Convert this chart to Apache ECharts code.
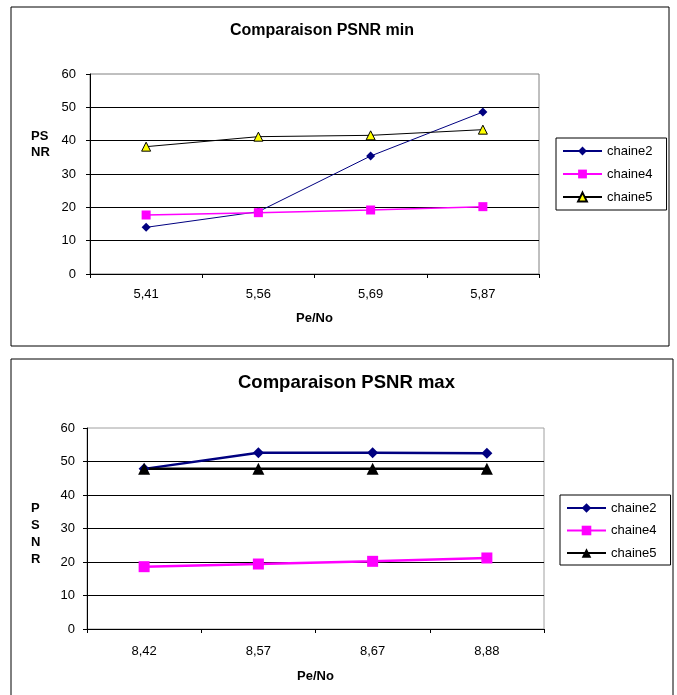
<!DOCTYPE html>
<html>
<head>
<meta charset="utf-8">
<script src="https://cdn.jsdelivr.net/npm/echarts@6/dist/echarts.min.js"></script>
<style>
html,body{margin:0;padding:0;background:#fff;}
#c{width:677px;height:695px;}
</style>
</head>
<body>
<div id="c"></div>
<script>
// ---- data ----
const catsMin = ['5,41', '5,56', '5,69', '5,87'];
const minChaine2 = [14.0, 18.7, 35.4, 48.6];
const minChaine4 = [17.7, 18.4, 19.2, 20.2];
const minChaine5 = [38.2, 41.2, 41.6, 43.3];

const catsMax = ['8,42', '8,57', '8,67', '8,88'];
const maxChaine2 = [47.8, 52.6, 52.6, 52.5];
const maxChaine4 = [18.6, 19.4, 20.2, 21.2];
const maxChaine5 = [47.8, 47.8, 47.8, 47.8];

const yTicks = { min: 0, max: 60, interval: 10 };

const FONT = 'Liberation Sans, Arial, sans-serif';
const chart = echarts.init(document.getElementById('c'), null, { renderer: 'canvas' });

function yAxis(gridIndex, margin) {
  return {
    type: 'value', gridIndex,
    min: yTicks.min, max: yTicks.max, interval: yTicks.interval,
    axisLine: { show: true, lineStyle: { color: '#000', width: 1 } },
    axisTick: { show: true, length: 4, lineStyle: { color: '#000' } },
    axisLabel: { color: '#000', fontSize: 13, fontFamily: FONT, margin },
    splitLine: { show: true, showMaxLine: false, showMinLine: false, lineStyle: { color: '#000', width: 1 } }
  };
}
function xAxis(gridIndex, data, margin, nameGap) {
  return {
    type: 'category', gridIndex, data, boundaryGap: true,
    name: 'Pe/No', nameLocation: 'middle', nameGap,
    nameTextStyle: { color: '#000', fontSize: 13, fontWeight: 'bold', fontFamily: FONT },
    axisLine: { show: true, lineStyle: { color: '#000', width: 1 } },
    axisTick: { show: true, length: 4, lineStyle: { color: '#000' } },
    axisLabel: { color: '#000', fontSize: 13, fontFamily: FONT, margin },
    splitLine: { show: false }
  };
}

const option = {
  backgroundColor: '#fff',
  animation: false,
  title: [
    { text: 'Comparaison PSNR min', left: 225, top: 18,
      textStyle: { fontSize: 16, fontWeight: 'bold', color: '#000', fontFamily: FONT } },
    { text: 'Comparaison PSNR max', left: 233, top: 368,
      textStyle: { fontSize: 18.5, fontWeight: 'bold', color: '#000', fontFamily: FONT } }
  ],
  grid: [
    { left: 90, top: 74, width: 449, height: 200, show: true, borderColor: '#808080', borderWidth: 1, backgroundColor: '#fff' },
    { left: 87, top: 428, width: 457, height: 201, show: true, borderColor: '#a0a0a0', borderWidth: 1, backgroundColor: '#fff' }
  ],
  xAxis: [ xAxis(0, catsMin, 14, 38), xAxis(1, catsMax, 16, 41) ],
  yAxis: [ yAxis(0, 14), yAxis(1, 12) ],
  legend: [
    { left: 556, top: 138, orient: 'vertical', borderColor: '#000', borderWidth: 1,
      padding: [6, 14, 6, 6], itemWidth: 39, itemHeight: 11, itemGap: 9,
      textStyle: { fontSize: 13, color: '#000', fontFamily: FONT, height: 14, lineHeight: 14 },
      data: ['chaine2', 'chaine4', 'chaine5'].map(n => ({ name: n })),
      selectedMode: false
    },
    { left: 560, top: 495, orient: 'vertical', borderColor: '#000', borderWidth: 1,
      padding: [6, 14, 5, 6], itemWidth: 39, itemHeight: 12, itemGap: 8.5,
      textStyle: { fontSize: 13, color: '#000', fontFamily: FONT, height: 14, lineHeight: 14 },
      data: ['chaine2 ', 'chaine4 ', 'chaine5 '].map(n => ({ name: n })),
      selectedMode: false,
      formatter: n => n.trim()
    }
  ],
  series: [
    { name: 'chaine2', type: 'line', xAxisIndex: 0, yAxisIndex: 0, data: minChaine2,
      symbol: 'diamond', symbolSize: 9, lineStyle: { color: '#000080', width: 1 },
      itemStyle: { color: '#000080' } },
    { name: 'chaine4', type: 'line', xAxisIndex: 0, yAxisIndex: 0, data: minChaine4,
      symbol: 'rect', symbolSize: 9, lineStyle: { color: '#ff00ff', width: 1.5 },
      itemStyle: { color: '#ff00ff' } },
    { name: 'chaine5', type: 'line', xAxisIndex: 0, yAxisIndex: 0, data: minChaine5,
      symbol: 'triangle', symbolSize: 9, lineStyle: { color: '#000', width: 1 },
      itemStyle: { color: '#ffff00', borderColor: '#000', borderWidth: 1 } },
    { name: 'chaine2 ', type: 'line', xAxisIndex: 1, yAxisIndex: 1, data: maxChaine2,
      symbol: 'diamond', symbolSize: 11, lineStyle: { color: '#000080', width: 2.5 },
      itemStyle: { color: '#000080' } },
    { name: 'chaine4 ', type: 'line', xAxisIndex: 1, yAxisIndex: 1, data: maxChaine4,
      symbol: 'rect', symbolSize: 11, lineStyle: { color: '#ff00ff', width: 2.5 },
      itemStyle: { color: '#ff00ff' } },
    { name: 'chaine5 ', type: 'line', xAxisIndex: 1, yAxisIndex: 1, data: maxChaine5,
      symbol: 'triangle', symbolSize: 12, lineStyle: { color: '#000', width: 2.5 },
      itemStyle: { color: '#000' } }
  ],
  graphic: [
    { type: 'rect', shape: { x: 11, y: 7, width: 658, height: 339 }, z: -10,
      style: { fill: 'none', stroke: '#000', lineWidth: 1 } },
    { type: 'rect', shape: { x: 11, y: 359, width: 662, height: 345 }, z: -10,
      style: { fill: 'none', stroke: '#000', lineWidth: 1 } },
    { type: 'text', left: 31, top: 128,
      style: { text: 'PS\nNR', font: 'bold 13px ' + FONT, fill: '#000', lineHeight: 16, align: 'left' } },
    { type: 'text', left: 31, top: 500,
      style: { text: 'P\nS\nN\nR', font: 'bold 13px ' + FONT, fill: '#000', lineHeight: 17, align: 'center' } }
  ]
};
chart.setOption(option);
</script>
</body>
</html>
